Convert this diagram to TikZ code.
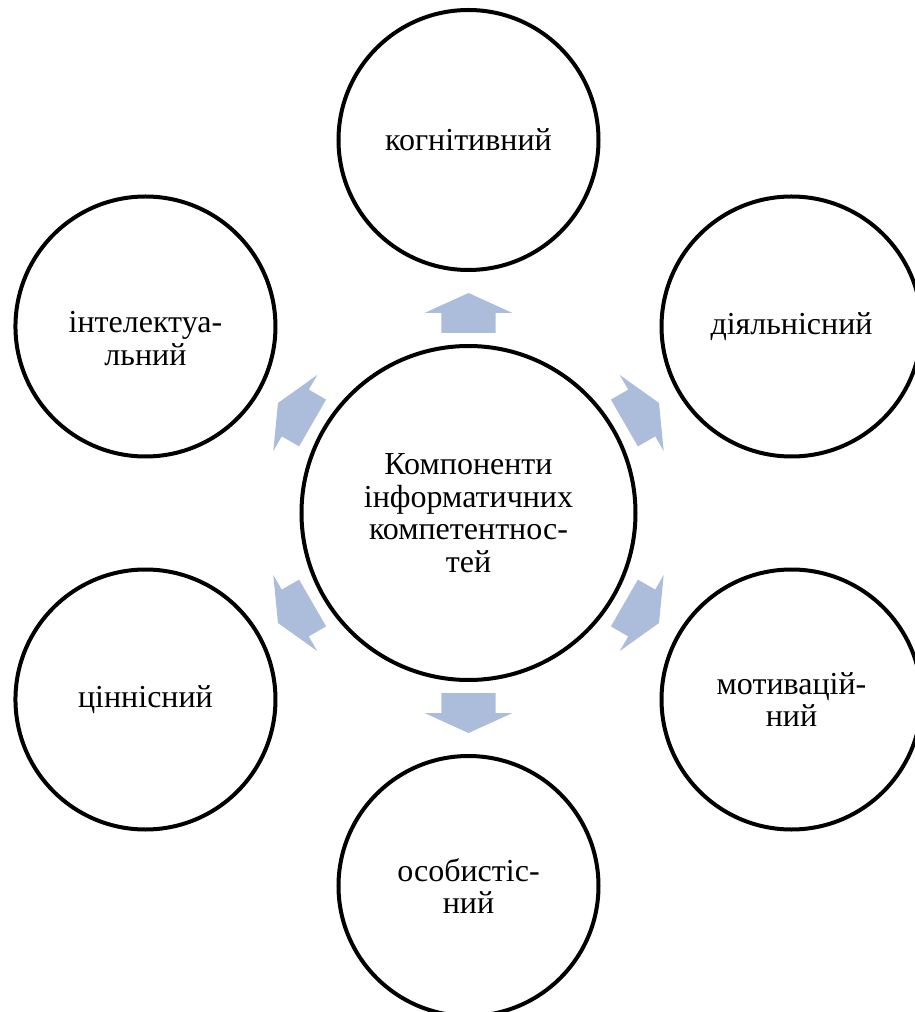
\documentclass[tikz,border=0pt]{standalone}
\usepackage{fontspec}
\setmainfont{Liberation Serif}
\definecolor{arrowblue}{RGB}{172,189,219}
\tikzset{
  ring/.style={draw=black, line width=4pt, circle, inner sep=0pt, align=center,
    font=\fontsize{32}{32.5}\selectfont},
  hub/.style={ring, minimum size=334pt},
  leaf/.style={ring, minimum size=260pt},
  blockarrow/.style={fill=arrowblue, draw=none}
}
\begin{document}
\begin{tikzpicture}[x=1pt,y=1pt]
\useasboundingbox (-468.5,-499) rectangle (446.5,513);
\clip (-468.5,-499) rectangle (446.5,513);
\node[hub] (c) at (0,0) {Компоненти\\інформатичних\\компетентнос-\\тей};
\node[leaf] (n1) at (90:373) {когнітивний};
\node[leaf] (n2) at (30:373) {діяльнісний};
\node[leaf] (n3) at (-30:373) {мотивацій-\\ний};
\node[leaf] (n4) at (-90:373) {особистіс-\\ний};
\node[leaf] (n5) at (-150:373) {ціннісний};
\node[leaf] (n6) at (150:373) {};
\node (t6) at ([yshift=-12pt]n6.center) [align=center, font=\fontsize{32}{32.5}\selectfont] {інтелектуа-\\льний};
\foreach \a in {90,30,-30,-90,-150,150}{
  \fill[blockarrow, shift={(\a:200)}, rotate=\a]
    (-20,-27) -- (0,-27) -- (0,-44) -- (20,0) -- (0,44) -- (0,27) -- (-20,27) -- cycle;
}
\end{tikzpicture}
\end{document}
